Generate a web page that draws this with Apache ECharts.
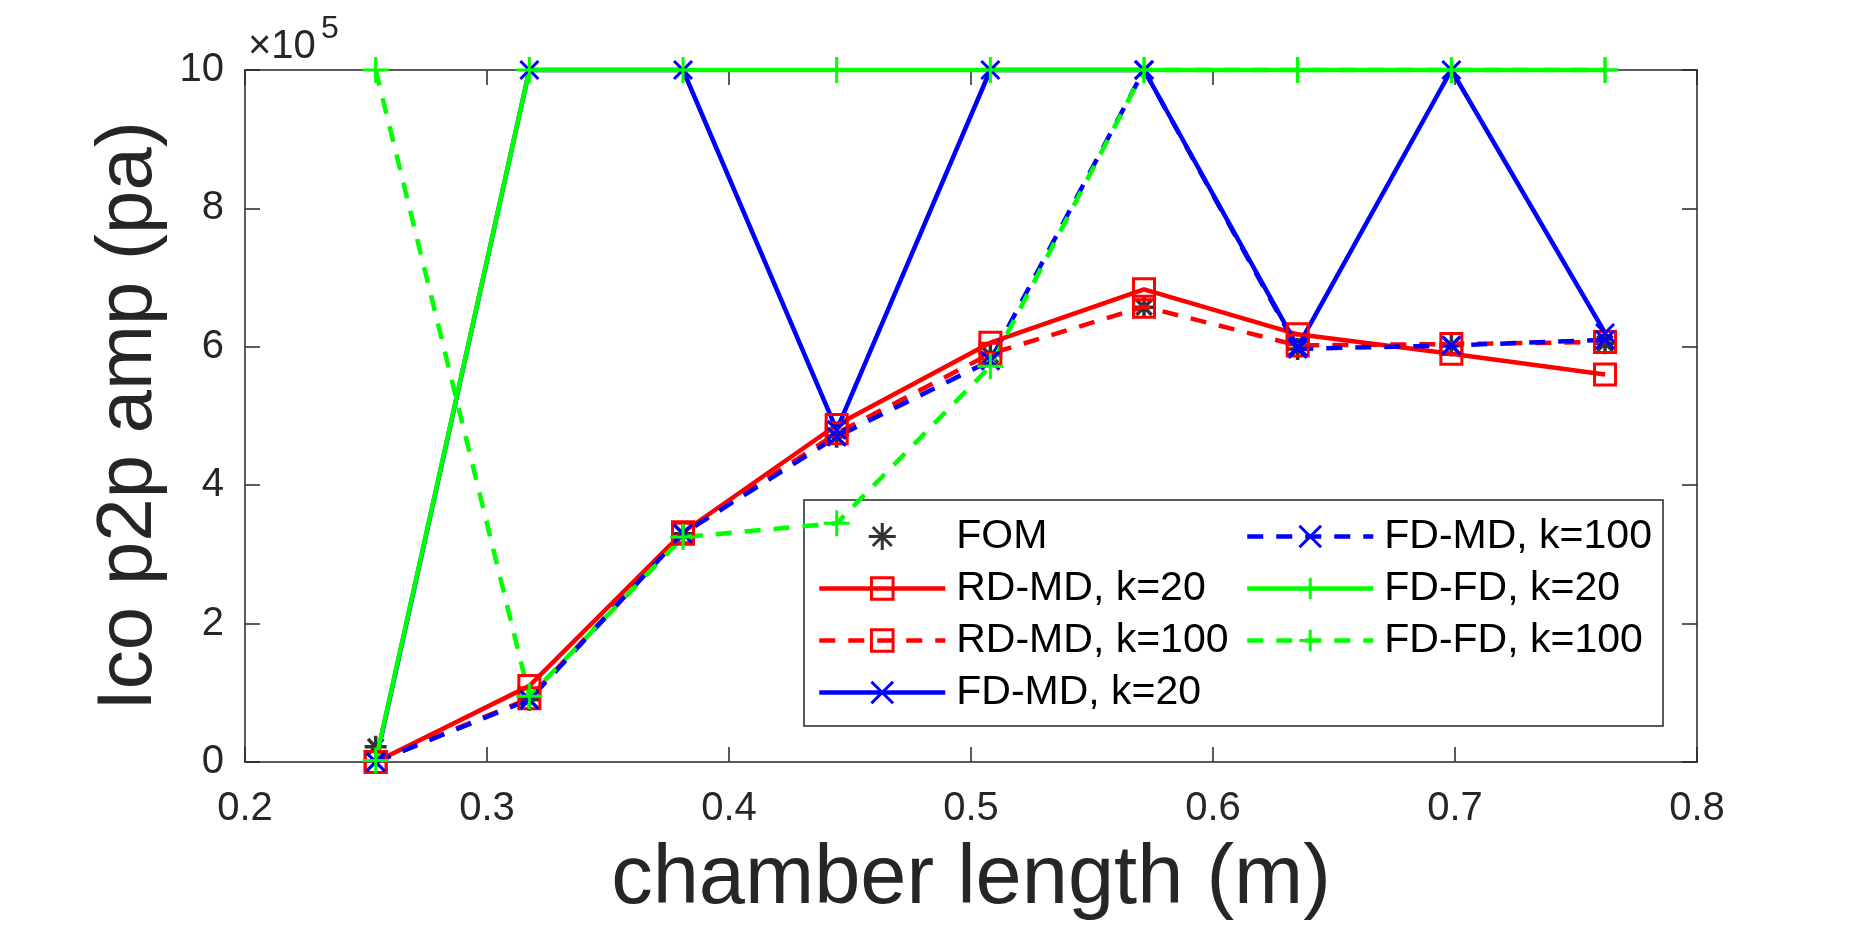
<!DOCTYPE html>
<html>
<head>
<meta charset="utf-8">
<script src="https://cdn.jsdelivr.net/npm/echarts@6/dist/echarts.min.js"></script>
<style>
  html, body { margin: 0; padding: 0; background: #fff; }
  #chart { width: 1875px; height: 938px; }
</style>
</head>
<body>
<div id="chart"></div>
<script>
// chamber length (m) -- 10" to 30" in 2.5" steps
var chamberLength = [0.254, 0.3175, 0.381, 0.4445, 0.508, 0.5715, 0.635, 0.6985, 0.762];

// p2p amplitude, in units of 1e5 Pa
var fom      = [0.22, 0.90, 3.30, 4.70, 5.88, 6.57, 5.97, 6.02, 6.05];
var rdmd20   = [0.00, 1.10, 3.32, 4.87, 6.06, 6.83, 6.18, 5.90, 5.60];
var rdmd100  = [0.00, 0.92, 3.30, 4.75, 5.90, 6.58, 6.02, 6.04, 6.07];
var fdmd20   = [0.00, 10.0, 10.0, 4.80, 10.0, 10.0, 6.00, 10.0, 6.20];
var fdmd100  = [0.00, 0.90, 3.30, 4.70, 5.80, 10.0, 5.97, 6.02, 6.10];
var fdfd20   = [0.02, 10.0, 10.0, 10.0, 10.0, 10.0, 10.0, 10.0, 10.0];
var fdfd100  = [10.0, 0.95, 3.25, 3.45, 5.72, 10.0, 10.0, 10.0, 10.0];

var xTicks = [0.2, 0.3, 0.4, 0.5, 0.6, 0.7, 0.8];
var yTicks = [0, 2, 4, 6, 8, 10];

var seriesNames = ['FOM', 'RD-MD, k=20', 'RD-MD, k=100', 'FD-MD, k=20',
                   'FD-MD, k=100', 'FD-FD, k=20', 'FD-FD, k=100'];

var FONT = "'Liberation Sans', Arial, Helvetica, sans-serif";
var AXIS_COLOR = '#262626';

var SYM_SQUARE = 'path://M0,0L10,0L10,10L0,10Z';
var SYM_CROSS  = 'path://M0,0L10,10M10,0L0,10';
var SYM_PLUS   = 'path://M5,0L5,10M0,5L10,5';
var SYM_STAR   = 'path://M5,0L5,10M0,5L10,5M1.5,1.5L8.5,8.5M8.5,1.5L1.5,8.5';

function pairs(ys) {
	return chamberLength.map(function (x, i) { return [x, ys[i]]; });
}

function lineSeries(name, ys, color, dashed, symbol, size) {
	return {
		name: name,
		type: 'line',
		data: pairs(ys),
		clip: false,
		symbol: symbol,
		symbolSize: size,
		showSymbol: true,
		lineStyle: {
			color: color,
			width: 4.5,
			type: dashed ? [16, 13] : 'solid'
		},
		itemStyle: {
			color: 'none',
			borderColor: color,
			borderWidth: 3
		},
		emphasis: { disabled: true }
	};
}

var chart = echarts.init(document.getElementById('chart'));

var legendBase = {
	orient: 'vertical',
	top: 516,
	padding: 0,
	itemWidth: 126,
	itemHeight: 27,
	itemGap: 11,
	z: 4,
	lineStyle: { width: 4.5 },
	itemStyle: { borderWidth: 3 },
	textStyle: { fontSize: 41, color: '#000', fontFamily: FONT, padding: [0, 0, 0, 6] }
};

var option = {
	animation: false,
	backgroundColor: '#fff',
	textStyle: { fontFamily: FONT },
	grid: {
		left: 245,
		right: 178,
		top: 70,
		bottom: 176,
		containLabel: false
	},
	graphic: [
		{
			type: 'rect',
			z: 3,
			shape: { x: 804, y: 500, width: 859, height: 226 },
			style: { fill: '#fff', stroke: AXIS_COLOR, lineWidth: 1.5 }
		},
		{
			type: 'text',
			x: 248,
			y: 47,
			style: {
				text: '\u00d710',
				fill: AXIS_COLOR,
				fontSize: 40,
				fontFamily: FONT,
				verticalAlign: 'middle'
			}
		},
		{
			type: 'text',
			x: 321,
			y: 29,
			style: {
				text: '5',
				fill: AXIS_COLOR,
				fontSize: 32,
				fontFamily: FONT,
				verticalAlign: 'middle'
			}
		}
	],
	legend: [
		Object.assign({ data: seriesNames.slice(0, 4), left: 817 }, legendBase),
		Object.assign({ data: seriesNames.slice(4), left: 1245 }, legendBase)
	],
	xAxis: [
		{
			type: 'value',
			min: xTicks[0],
			max: xTicks[xTicks.length - 1],
			interval: 0.1,
			name: 'chamber length (m)',
			nameLocation: 'middle',
			nameGap: 77,
			nameTextStyle: { fontSize: 83, color: AXIS_COLOR, fontFamily: FONT },
			axisLine: { show: true, onZero: false, lineStyle: { color: AXIS_COLOR, width: 1.5 } },
			axisTick: { show: true, inside: true, length: 15, lineStyle: { color: AXIS_COLOR, width: 1.5 } },
			axisLabel: {
				fontSize: 40, color: AXIS_COLOR, margin: 27, fontFamily: FONT,
				formatter: function (v) { return v.toFixed(1); }
			},
			splitLine: { show: false }
		},
		{
			type: 'value',
			position: 'top',
			min: xTicks[0],
			max: xTicks[xTicks.length - 1],
			interval: 0.1,
			axisLine: { show: true, onZero: false, lineStyle: { color: AXIS_COLOR, width: 1.5 } },
			axisTick: { show: true, inside: true, length: 15, lineStyle: { color: AXIS_COLOR, width: 1.5 } },
			axisLabel: { show: false },
			splitLine: { show: false }
		}
	],
	yAxis: [
		{
			type: 'value',
			min: yTicks[0],
			max: yTicks[yTicks.length - 1],
			interval: 2,
			name: 'Ico p2p amp (pa)',
			nameLocation: 'middle',
			nameGap: 68,
			nameTextStyle: { fontSize: 78, color: AXIS_COLOR, fontFamily: FONT },
			axisLine: { show: true, onZero: false, lineStyle: { color: AXIS_COLOR, width: 1.5 } },
			axisTick: { show: true, inside: true, length: 15, lineStyle: { color: AXIS_COLOR, width: 1.5 } },
			axisLabel: { fontSize: 40, color: AXIS_COLOR, margin: 21, fontFamily: FONT },
			splitLine: { show: false }
		},
		{
			type: 'value',
			position: 'right',
			min: yTicks[0],
			max: yTicks[yTicks.length - 1],
			interval: 2,
			axisLine: { show: true, onZero: false, lineStyle: { color: AXIS_COLOR, width: 1.5 } },
			axisTick: { show: true, inside: true, length: 15, lineStyle: { color: AXIS_COLOR, width: 1.5 } },
			axisLabel: { show: false },
			splitLine: { show: false }
		}
	],
	series: [
		{
			name: 'FOM',
			type: 'scatter',
			data: pairs(fom),
			clip: false,
			symbol: SYM_STAR,
			symbolSize: 22,
			itemStyle: { color: 'none', borderColor: '#000', borderWidth: 3.5 },
			emphasis: { disabled: true }
		},
		lineSeries('RD-MD, k=20', rdmd20, '#ff0000', false, SYM_SQUARE, 21),
		lineSeries('RD-MD, k=100', rdmd100, '#ff0000', true, SYM_SQUARE, 21),
		lineSeries('FD-MD, k=20', fdmd20, '#0000ff', false, SYM_CROSS, 18),
		lineSeries('FD-MD, k=100', fdmd100, '#0000ff', true, SYM_CROSS, 18),
		lineSeries('FD-FD, k=20', fdfd20, '#00ff00', false, SYM_PLUS, 26),
		lineSeries('FD-FD, k=100', fdfd100, '#00ff00', true, SYM_PLUS, 26)
	]
};

chart.setOption(option);
</script>
</body>
</html>
